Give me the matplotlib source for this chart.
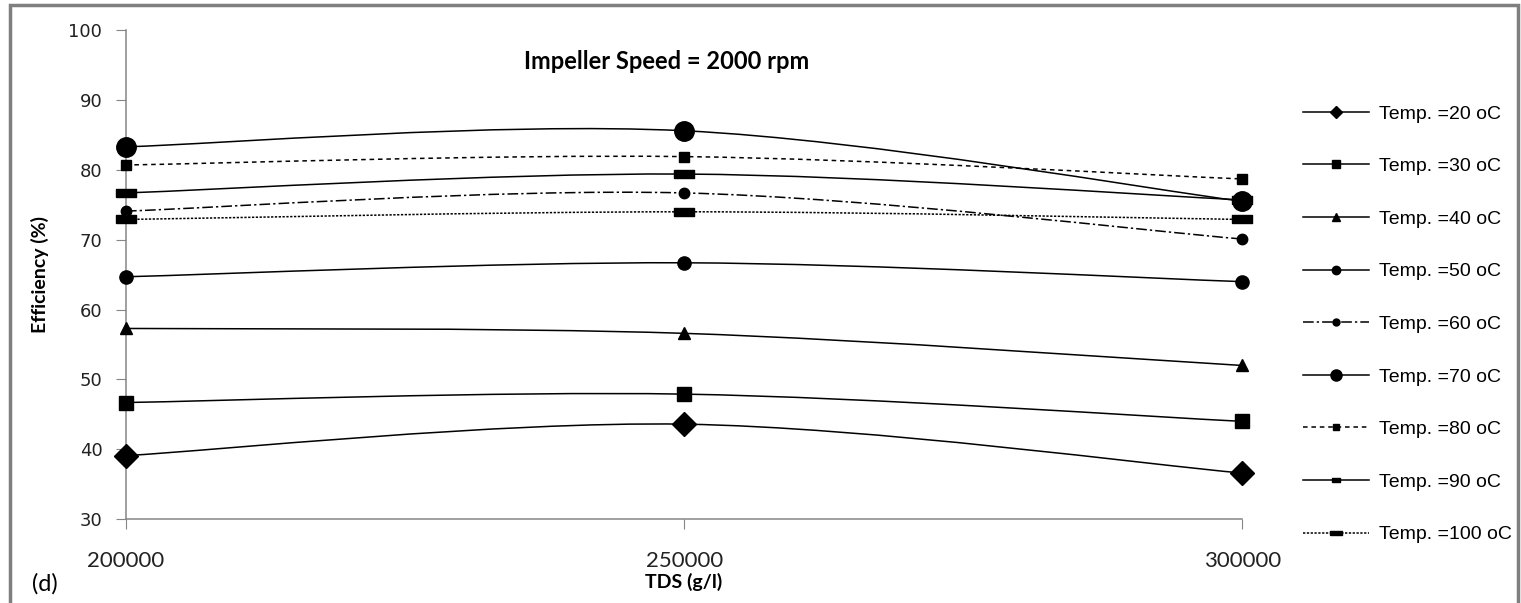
import matplotlib.pyplot as plt
from matplotlib.path import Path
from matplotlib.patches import PathPatch, Rectangle
from matplotlib.lines import Line2D

tds = [200000, 250000, 300000]
labels = ["Temp. =20 oC", "Temp. =30 oC", "Temp. =40 oC", "Temp. =50 oC",
          "Temp. =60 oC", "Temp. =70 oC", "Temp. =80 oC", "Temp. =90 oC",
          "Temp. =100 oC"]

eff_20 = [39.1, 43.6, 36.6]
eff_30 = [46.7, 47.9, 44.0]
eff_40 = [57.3, 56.6, 52.0]
eff_50 = [64.7, 66.7, 64.0]
eff_60 = [74.1, 76.7, 70.1]
eff_70 = [83.3, 85.6, 75.5]
eff_80 = [80.7, 81.9, 78.7]
eff_90 = [76.7, 79.4, 75.7]
eff_100 = [72.9, 74.0, 72.9]

series = [eff_20, eff_30, eff_40, eff_50, eff_60, eff_70, eff_80, eff_90, eff_100]

# wide flat bar marker used for 90 / 100 oC
bar = [(-1, -0.38), (1, -0.38), (1, 0.38), (-1, 0.38), (-1, -0.38)]

# (linestyle, marker, data size, legend size)
styles = [
    ("-", "D", 12, 6),
    ("-", "s", 10, 6),
    ("-", "^", 9, 6),
    ("-", "o", 9.5, 6),
    ((0, (7, 2, 1.5, 2)), "o", 7.5, 5),
    ("-", "o", 14, 8),
    ((0, (3, 2.5)), "s", 6.5, 5),
    ("-", bar, 14, 6),
    ((0, (1.5, 1)), bar, 14, 9),
]


def smooth_path(xs, ys):
    # Excel style smoothed line: cubic Bezier through the points
    pts = list(zip(xs, ys))
    verts = [pts[0]]
    codes = [Path.MOVETO]
    n = len(pts)
    for i in range(n - 1):
        p0 = pts[i - 1] if i > 0 else pts[i]
        p1 = pts[i]
        p2 = pts[i + 1]
        p3 = pts[i + 2] if i + 2 < n else pts[i + 1]
        c1 = (p1[0] + (p2[0] - p0[0]) / 6, p1[1] + (p2[1] - p0[1]) / 6)
        c2 = (p2[0] - (p3[0] - p1[0]) / 6, p2[1] - (p3[1] - p1[1]) / 6)
        verts += [c1, c2, p2]
        codes += [Path.CURVE4] * 3
    return Path(verts, codes)


fig = plt.figure(figsize=(15.21, 6.03), dpi=100)
ax = fig.add_axes([0.0828, 0.139, 0.734, 0.811])

handles = []
for vals, lab, (ls, mk, ms, lms) in zip(series, labels, styles):
    ax.add_patch(PathPatch(smooth_path(tds, vals), fill=False, edgecolor="black",
                           linewidth=1.1, linestyle=ls, zorder=2))
    ax.plot(tds, vals, linestyle="none", marker=mk, markersize=ms,
            color="black", zorder=3, clip_on=False)
    handles.append(Line2D([], [], color="black", linewidth=1.1, linestyle=ls,
                          marker=mk, markersize=lms, label=lab))

ax.set_xlim(200000, 300000)
ax.set_ylim(30, 100)
ax.set_xticks(tds)
ax.set_xticklabels([str(t) for t in tds], fontfamily="Lato", fontsize=16)
ax.set_yticks(range(30, 101, 10))
ax.tick_params(axis="y", labelsize=13, length=7, pad=10, color="#868686",
               labelcolor="#222222")
ax.tick_params(axis="x", length=7, pad=16, color="#868686", labelcolor="#222222")

for s in ["top", "right"]:
    ax.spines[s].set_visible(False)
for s in ["left", "bottom"]:
    ax.spines[s].set_color("#868686")
    ax.spines[s].set_linewidth(1.1)

ax.set_ylabel("Efficiency (%)", fontfamily="Lato", fontweight="bold",
              fontsize=14, labelpad=14)
fig.text(0.4497, 0.035, "TDS (g/l)", fontfamily="Lato", fontweight="bold",
         fontsize=14, ha="center", va="center")
fig.text(0.021, 0.032, "(d)", fontfamily="Lato", fontsize=17,
         ha="left", va="center")
ax.text(0.484, 0.935, "Impeller Speed = 2000 rpm", transform=ax.transAxes,
        fontfamily="Lato", fontweight="bold", fontsize=17, ha="center",
        va="center")

fig.legend(handles=handles, loc="upper left", bbox_to_anchor=(0.8567, 0.826),
           frameon=False, borderpad=0, borderaxespad=0, labelspacing=1.8,
           handlelength=3.4, handletextpad=0.5,
           prop={"family": "Liberation Sans", "size": 14})

fig.patches.append(Rectangle((0.0063, -0.02), 0.992, 1.012, transform=fig.transFigure,
                             fill=False, edgecolor="#7f7f7f", linewidth=2.5))

fig.savefig("out.png", dpi=100)
